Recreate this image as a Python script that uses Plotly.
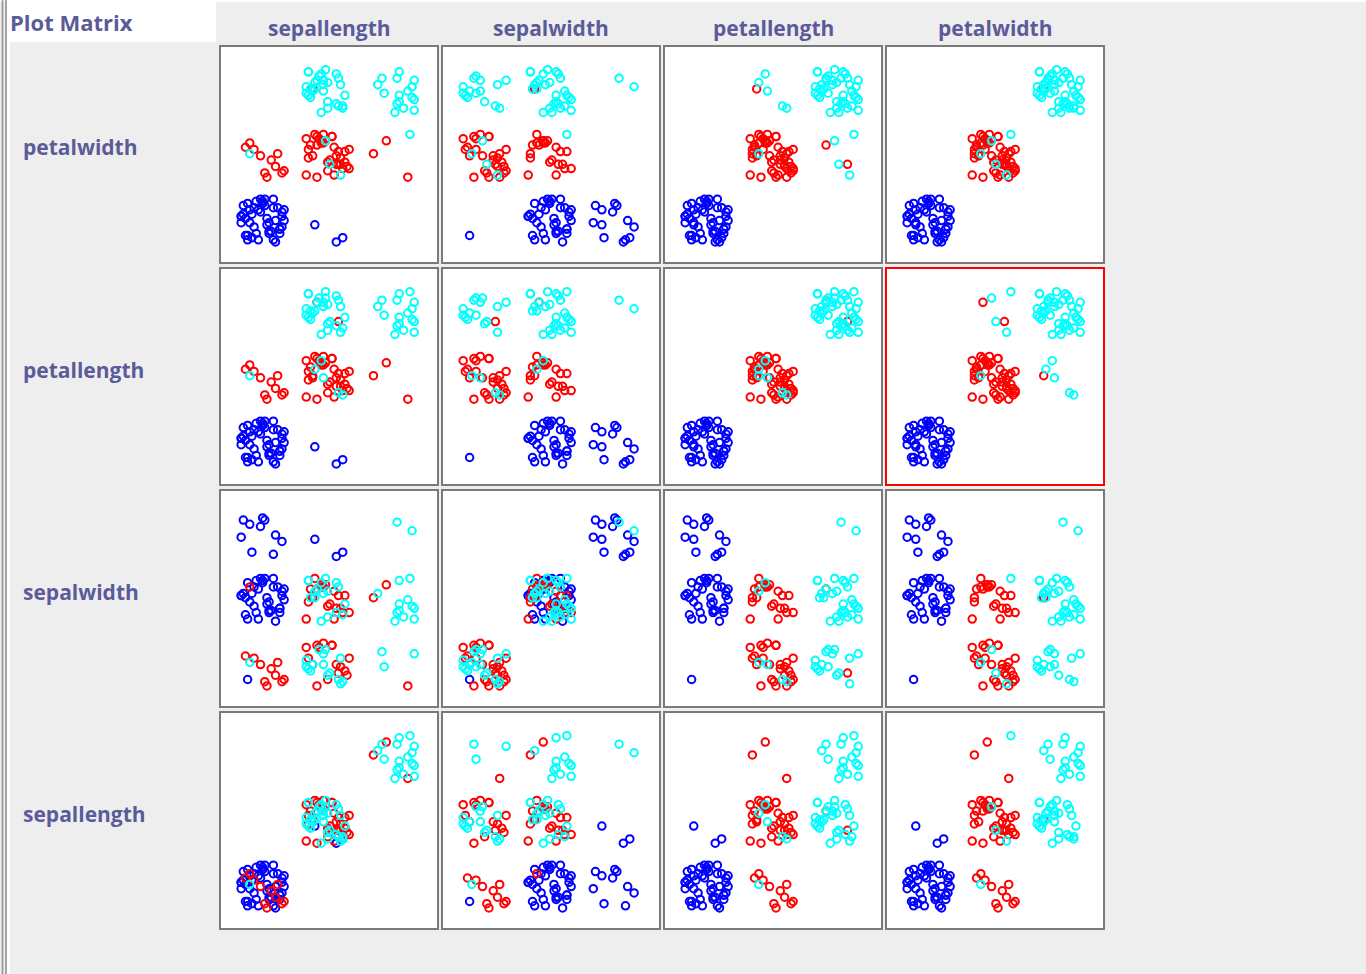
import plotly.graph_objects as go

# ---------------- data (Fisher's iris, as shown in the Weka plot matrix) ----------------
ATTRIBUTES = ["sepallength", "sepalwidth", "petallength", "petalwidth"]
ROW_ORDER = ["petalwidth", "petallength", "sepalwidth", "sepallength"]   # top -> bottom
COL_ORDER = ["sepallength", "sepalwidth", "petallength", "petalwidth"]   # left -> right
CLASSES = ["Iris-setosa", "Iris-versicolor", "Iris-virginica"]
CLASS_COLORS = ["#0000FF", "#FF0000", "#00FFFF"]
SELECTED_CELL = ("petallength", "petalwidth")   # (row, column) outlined in red

SEPAL_LENGTH = [
    5.1, 4.9, 4.7, 4.6, 5.0, 5.4, 4.6, 5.0, 4.4, 4.9,
    5.4, 4.8, 4.8, 4.3, 5.8, 5.7, 5.4, 5.1, 5.7, 5.1,
    5.4, 5.1, 4.6, 5.1, 4.8, 5.0, 5.0, 5.2, 5.2, 4.7,
    4.8, 5.4, 5.2, 5.5, 4.9, 5.0, 5.5, 4.9, 4.4, 5.1,
    5.0, 4.5, 4.4, 5.0, 5.1, 4.8, 5.1, 4.6, 5.3, 5.0,
    7.0, 6.4, 6.9, 5.5, 6.5, 5.7, 6.3, 4.9, 6.6, 5.2,
    5.0, 5.9, 6.0, 6.1, 5.6, 6.7, 5.6, 5.8, 6.2, 5.6,
    5.9, 6.1, 6.3, 6.1, 6.4, 6.6, 6.8, 6.7, 6.0, 5.7,
    5.5, 5.5, 5.8, 6.0, 5.4, 6.0, 6.7, 6.3, 5.6, 5.5,
    5.5, 6.1, 5.8, 5.0, 5.6, 5.7, 5.7, 6.2, 5.1, 5.7,
    6.3, 5.8, 7.1, 6.3, 6.5, 7.6, 4.9, 7.3, 6.7, 7.2,
    6.5, 6.4, 6.8, 5.7, 5.8, 6.4, 6.5, 7.7, 7.7, 6.0,
    6.9, 5.6, 7.7, 6.3, 6.7, 7.2, 6.2, 6.1, 6.4, 7.2,
    7.4, 7.9, 6.4, 6.3, 6.1, 7.7, 6.3, 6.4, 6.0, 6.9,
    6.7, 6.9, 5.8, 6.8, 6.7, 6.7, 6.3, 6.5, 6.2, 5.9,
]
SEPAL_WIDTH = [
    3.5, 3.0, 3.2, 3.1, 3.6, 3.9, 3.4, 3.4, 2.9, 3.1,
    3.7, 3.4, 3.0, 3.0, 4.0, 4.4, 3.9, 3.5, 3.8, 3.8,
    3.4, 3.7, 3.6, 3.3, 3.4, 3.0, 3.4, 3.5, 3.4, 3.2,
    3.1, 3.4, 4.1, 4.2, 3.1, 3.2, 3.5, 3.1, 3.0, 3.4,
    3.5, 2.3, 3.2, 3.5, 3.8, 3.0, 3.8, 3.2, 3.7, 3.3,
    3.2, 3.2, 3.1, 2.3, 2.8, 2.8, 3.3, 2.4, 2.9, 2.7,
    2.0, 3.0, 2.2, 2.9, 2.9, 3.1, 3.0, 2.7, 2.2, 2.5,
    3.2, 2.8, 2.5, 2.8, 2.9, 3.0, 2.8, 3.0, 2.9, 2.6,
    2.4, 2.4, 2.7, 2.7, 3.0, 3.4, 3.1, 2.3, 3.0, 2.5,
    2.6, 3.0, 2.6, 2.3, 2.7, 3.0, 2.9, 2.9, 2.5, 2.8,
    3.3, 2.7, 3.0, 2.9, 3.0, 3.0, 2.5, 2.9, 2.5, 3.6,
    3.2, 2.7, 3.0, 2.5, 2.8, 3.2, 3.0, 3.8, 2.6, 2.2,
    3.2, 2.8, 2.8, 2.7, 3.3, 3.2, 2.8, 3.0, 2.8, 3.0,
    2.8, 3.8, 2.8, 2.8, 2.6, 3.0, 3.4, 3.1, 3.0, 3.1,
    3.1, 3.1, 2.7, 3.2, 3.3, 3.0, 2.5, 3.0, 3.4, 3.0,
]
PETAL_LENGTH = [
    1.4, 1.4, 1.3, 1.5, 1.4, 1.7, 1.4, 1.5, 1.4, 1.5,
    1.5, 1.6, 1.4, 1.1, 1.2, 1.5, 1.3, 1.4, 1.7, 1.5,
    1.7, 1.5, 1.0, 1.7, 1.9, 1.6, 1.6, 1.5, 1.4, 1.6,
    1.6, 1.5, 1.5, 1.4, 1.5, 1.2, 1.3, 1.5, 1.3, 1.5,
    1.3, 1.3, 1.3, 1.6, 1.9, 1.4, 1.6, 1.4, 1.5, 1.4,
    4.7, 4.5, 4.9, 4.0, 4.6, 4.5, 4.7, 3.3, 4.6, 3.9,
    3.5, 4.2, 4.0, 4.7, 3.6, 4.4, 4.5, 4.1, 4.5, 3.9,
    4.8, 4.0, 4.9, 4.7, 4.3, 4.4, 4.8, 5.0, 4.5, 3.5,
    3.8, 3.7, 3.9, 5.1, 4.5, 4.5, 4.7, 4.4, 4.1, 4.0,
    4.4, 4.6, 4.0, 3.3, 4.2, 4.2, 4.2, 4.3, 3.0, 4.1,
    6.0, 5.1, 5.9, 5.6, 5.8, 6.6, 4.5, 6.3, 5.8, 6.1,
    5.1, 5.3, 5.5, 5.0, 5.1, 5.3, 5.5, 6.7, 6.9, 5.0,
    5.7, 4.9, 6.7, 4.9, 5.7, 6.0, 4.8, 4.9, 5.6, 5.8,
    6.1, 6.4, 5.6, 5.1, 5.6, 6.1, 5.6, 5.5, 4.8, 5.4,
    5.6, 5.1, 5.1, 5.9, 5.7, 5.2, 5.0, 5.2, 5.4, 5.1,
]
PETAL_WIDTH = [
    0.2, 0.2, 0.2, 0.2, 0.2, 0.4, 0.3, 0.2, 0.2, 0.1,
    0.2, 0.2, 0.1, 0.1, 0.2, 0.4, 0.4, 0.3, 0.3, 0.3,
    0.2, 0.4, 0.2, 0.5, 0.2, 0.2, 0.4, 0.2, 0.2, 0.2,
    0.2, 0.4, 0.1, 0.2, 0.1, 0.2, 0.2, 0.1, 0.2, 0.2,
    0.3, 0.3, 0.2, 0.6, 0.4, 0.3, 0.2, 0.2, 0.2, 0.2,
    1.4, 1.5, 1.5, 1.3, 1.5, 1.3, 1.6, 1.0, 1.3, 1.4,
    1.0, 1.5, 1.0, 1.4, 1.3, 1.4, 1.5, 1.0, 1.5, 1.1,
    1.8, 1.3, 1.5, 1.2, 1.3, 1.4, 1.4, 1.7, 1.5, 1.0,
    1.1, 1.0, 1.2, 1.6, 1.5, 1.6, 1.5, 1.3, 1.3, 1.3,
    1.2, 1.4, 1.2, 1.0, 1.3, 1.2, 1.3, 1.3, 1.1, 1.3,
    2.5, 1.9, 2.1, 1.8, 2.2, 2.1, 1.7, 1.8, 1.8, 2.5,
    2.0, 1.9, 2.1, 2.0, 2.4, 2.3, 1.8, 2.2, 2.3, 1.5,
    2.3, 2.0, 2.0, 1.8, 2.1, 1.8, 1.8, 1.8, 2.1, 1.6,
    1.9, 2.0, 2.2, 1.5, 1.4, 2.3, 2.4, 1.8, 1.8, 2.1,
    2.4, 2.3, 1.9, 2.3, 2.5, 2.3, 1.9, 2.0, 2.3, 1.8,
]
SPECIES = [0] * 50 + [1] * 50 + [2] * 50   # index into CLASSES

# per-instance jitter (Weka applies the same jitter offsets to an instance in every cell)
JITTER_X = [
    3, -7, 9, -2, 5, -10, 1, 8, -5, -8,
    6, 0, -3, 10, -6, 4, -9, 2, 7, -1,
    -4, 9, -7, 5, -10, 3, 0, -6, 8, -2,
    6, -9, 1, -5, 10, -3, 4, -8, 2, 7,
    -1, -7, 9, -4, 5, -10, 0, 8, -6, 3,
    -3, 6, -9, 2, 10, -5, 7, -1, -8, 4,
    1, -6, 9, -2, 5, -10, 3, 8, -4, 0,
    -7, 6, 2, -9, 10, -3, 7, -5, 1, 4,
    -8, 9, -2, 5, -6, 0, 8, -10, 3, -4,
    6, -1, -7, 10, 2, -9, 4, -3, 7, -5,
    8, -2, 5, -9, 0, 3, -6, 10, -4, 7,
    -1, -8, 2, 6, -10, 4, -3, 9, -5, 1,
    -7, 5, 10, -2, -9, 3, 7, -6, 0, 8,
    -4, 2, -10, 6, -1, 9, -8, 4, -3, 1,
    -5, 10, -7, 3, 7, -2, -9, 5, 0, -6,
]
JITTER_Y = [
    -5, 8, 2, -9, 6, -1, 10, -4, 3, -7,
    0, 9, -6, 5, -2, -10, 7, 1, -8, 4,
    6, -3, -9, 10, 2, -6, 8, -1, -4, 5,
    -10, 3, 7, -8, 0, 9, -5, 1, -2, 6,
    10, -7, 4, -3, -9, 2, 8, -6, 5, -1,
    7, -4, 1, -10, 3, 9, -6, 0, 5, -2,
    -8, 10, -5, 6, 2, -9, 4, -3, 8, -7,
    1, -1, 9, 3, -6, 7, -10, 5, -2, 0,
    4, -8, 10, -4, 6, -3, 2, 8, -9, 3,
    -5, 7, 0, -7, 9, -1, -4, 6, 1, -10,
    -2, 5, -8, 9, 4, -5, 1, -9, 7, 0,
    10, -3, -6, 3, -1, 8, -10, 2, 6, -4,
    3, -7, 5, 0, 9, -2, -8, 4, -5, 10,
    -1, 6, 2, -9, 7, -3, 1, -6, 8, -10,
    5, -4, 0, 9, -7, 3, -2, 6, -8, 1,
]
JITTER_STEP = 0.033
N_BINS = 3

# ---------------- equal-width discretisation (as Weka's Discretize filter) ----------------
def discretize(values, bins=N_BINS):
    lo, hi = min(values), max(values)
    width = (hi - lo) / bins
    cuts = [lo + width * (i + 1) for i in range(bins - 1)]
    out = []
    for v in values:
        b = bins - 1
        for i, c in enumerate(cuts):
            if v <= c:
                b = i
                break
        out.append(b)
    return out

BINNED = {
    "sepallength": discretize(SEPAL_LENGTH),
    "sepalwidth": discretize(SEPAL_WIDTH),
    "petallength": discretize(PETAL_LENGTH),
    "petalwidth": discretize(PETAL_WIDTH),
}

# ---------------- geometry ----------------
W, H = 1366, 974
COL_X0 = [219, 441, 663, 885]
ROW_Y0 = [45, 267, 489, 711]
CELL_W, CELL_H = 220, 219
AX_RANGE = [-0.64, 2.68]
TEXT_COLOR = "#5b5b9a"
FONT = "Open Sans"

def px(x):
    return x / W

def py(y):
    return 1 - y / H

fig = go.Figure()
layout_axes = {}
shapes = []

# page decorations
shapes.append(dict(type="rect", xref="paper", yref="paper", x0=0, x1=1, y0=py(2), y1=1,
                   fillcolor="white", line=dict(width=0), layer="below"))
shapes.append(dict(type="rect", xref="paper", yref="paper", x0=px(7), x1=px(216), y0=py(42), y1=1,
                   fillcolor="white", line=dict(width=0), layer="below"))
shapes.append(dict(type="rect", xref="paper", yref="paper", x0=px(7), x1=px(10), y0=0, y1=1,
                   fillcolor="white", line=dict(width=0), layer="below"))
for lx in (2.5, 6):
    shapes.append(dict(type="line", xref="paper", yref="paper", x0=px(lx), x1=px(lx), y0=0, y1=1,
                       line=dict(color="#929292", width=1.6), layer="below"))

k = 0
for r, row_attr in enumerate(ROW_ORDER):
    for c, col_attr in enumerate(COL_ORDER):
        k += 1
        xa = "x" if k == 1 else f"x{k}"
        ya = "y" if k == 1 else f"y{k}"
        x0, y0 = COL_X0[c], ROW_Y0[r]
        layout_axes["xaxis" if k == 1 else f"xaxis{k}"] = dict(
            domain=[px(x0 + 2), px(x0 + CELL_W - 2)], range=AX_RANGE, visible=False,
            fixedrange=True, anchor=ya)
        layout_axes["yaxis" if k == 1 else f"yaxis{k}"] = dict(
            domain=[py(y0 + CELL_H - 2), py(y0 + 2)], range=AX_RANGE, visible=False,
            fixedrange=True, anchor=xa)
        xs = [b + j * JITTER_STEP for b, j in zip(BINNED[col_attr], JITTER_X)]
        ys = [b + j * JITTER_STEP for b, j in zip(BINNED[row_attr], JITTER_Y)]
        cols = [CLASS_COLORS[s] for s in SPECIES]
        fig.add_trace(go.Scatter(
            x=xs, y=ys, xaxis=xa, yaxis=ya, mode="markers", hoverinfo="skip",
            showlegend=False,
            marker=dict(symbol="circle-open", size=7.5, color=cols, line=dict(width=2)),
        ))
        selected = (row_attr, col_attr) == SELECTED_CELL
        shapes.append(dict(type="rect", xref="paper", yref="paper",
                           x0=px(x0 + 1), x1=px(x0 + CELL_W - 1),
                           y0=py(y0 + CELL_H - 1), y1=py(y0 + 1),
                           line=dict(color="#FF0000" if selected else "#7a7a7a", width=2),
                           fillcolor="rgba(0,0,0,0)", layer="above"))

annotations = [dict(text="Plot Matrix", xref="paper", yref="paper", x=px(8), y=py(22),
                    xanchor="left", yanchor="middle", showarrow=False,
                    font=dict(family=FONT, size=22, color=TEXT_COLOR, weight="bold"))]
for c, col_attr in enumerate(COL_ORDER):
    annotations.append(dict(text=col_attr, xref="paper", yref="paper",
                            x=px(COL_X0[c] + CELL_W / 2), y=py(28),
                            xanchor="center", yanchor="middle", showarrow=False,
                            font=dict(family=FONT, size=21, color=TEXT_COLOR, weight="bold")))
for r, row_attr in enumerate(ROW_ORDER):
    annotations.append(dict(text=row_attr, xref="paper", yref="paper",
                            x=px(21), y=py(ROW_Y0[r] + CELL_H / 2 - 7),
                            xanchor="left", yanchor="middle", showarrow=False,
                            font=dict(family=FONT, size=21, color=TEXT_COLOR, weight="bold")))

fig.update_layout(
    width=W, height=H, autosize=False,
    margin=dict(l=0, r=0, t=0, b=0),
    paper_bgcolor="#EEEEEE", plot_bgcolor="white",
    shapes=shapes, annotations=annotations,
    **layout_axes,
)

fig.write_html("out.html", config={"displayModeBar": False, "staticPlot": True})
